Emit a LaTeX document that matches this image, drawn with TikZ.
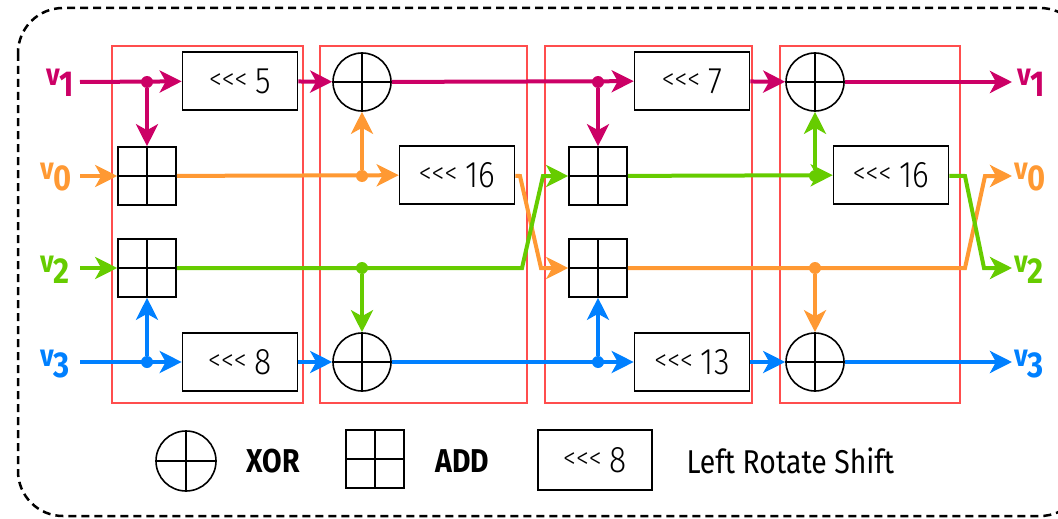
\documentclass[tikz,border=0pt]{standalone}
\usepackage{fontspec}
\setmainfont[FakeStretch=0.86]{Fira Sans}
\newfontfamily\lightfont[FakeStretch=0.86]{Fira Sans Light}
\usetikzlibrary{arrows.meta}

\definecolor{vone}{HTML}{CC0066}
\definecolor{vzero}{HTML}{FF9933}
\definecolor{vtwo}{HTML}{66CC00}
\definecolor{vthree}{HTML}{0080FF}
\definecolor{stage}{HTML}{FF4D4D}

% v with its hanging index
\newcommand\Vname[1]{{\fontsize{31}{31}\selectfont\bfseries v}{\fontsize{36}{36}\selectfont\bfseries\raisebox{-11pt}{#1}}}
% rotation amount; the marks are kept apart so they do not turn into guillemets
\newcommand\Rotl[1]{\raisebox{4pt}{\fontsize{30}{30}\selectfont<\kern0pt<\kern0pt<}\hspace{8pt}{\fontsize{37}{37}\selectfont#1}}

\tikzstyle{rot}=[rectangle,draw,line width=1.6pt,minimum width=115pt,minimum height=58pt,inner sep=0pt,font=\lightfont]
\tikzstyle{xor}=[circle,draw,line width=1.6pt,minimum size=58pt,inner sep=0pt,
  path picture={\draw[line width=1.3pt] (path picture bounding box.north) -- (path picture bounding box.south)
    (path picture bounding box.west) -- (path picture bounding box.east);}]
\tikzstyle{add}=[rectangle,draw,line width=1.6pt,minimum size=58pt,inner sep=0pt,
  path picture={\draw[line width=1.3pt] (path picture bounding box.north) -- (path picture bounding box.south)
    (path picture bounding box.west) -- (path picture bounding box.east);}]
\tikzstyle{dot}=[circle,fill,inner sep=0pt,minimum size=12pt]
\tikzstyle{stagebox}=[draw=stage,line width=1.6pt]
\tikzstyle{wire}=[line width=4pt,-{Stealth[length=22pt,width=22pt,inset=6pt]}]
\tikzstyle{vlabel}=[inner sep=0pt,anchor=base west]
\tikzstyle{legend}=[font=\fontsize{33}{33}\selectfont]

\begin{document}
\begin{tikzpicture}[x=1pt,y=-1pt]
  \useasboundingbox (0,0) rectangle (1058,519);
  \draw[line width=2.5pt,dash pattern=on 8pt off 5pt,rounded corners=45pt] (18,8) rectangle (1085,516);
  % the four stages
  \draw[stagebox] (112,46) rectangle (303,403);
  \draw[stagebox] (320,46) rectangle (527,403);
  \draw[stagebox] (545,46) rectangle (752,403);
  \draw[stagebox] (780,46) rectangle (960,403);
  % first half
  \node[dot,vone] (d1) at (147,82) {};
  \node[rot] (rot5) at (240,81) {\Rotl{5}};
  \node[add] (add1) at (147,176) {};
  \node[add] (add2) at (147,268) {};
  \node[dot,vthree] (d4) at (147,362) {};
  \node[rot] (rot8) at (240,362) {\Rotl{8}};
  \node[xor] (xor1) at (362,82) {};
  \node[dot,vzero] (d2) at (362,176) {};
  \node[rot] (rot16a) at (457,175) {\Rotl{16}};
  \node[dot,vtwo] (d3) at (362,268) {};
  \node[xor] (xor2) at (362,362) {};
  % second half
  \node[dot,vone] (d5) at (598,82) {};
  \node[rot] (rot7) at (692,81) {\Rotl{7}};
  \node[add] (add3) at (598,176) {};
  \node[add] (add4) at (598,268) {};
  \node[dot,vthree] (d8) at (598,362) {};
  \node[rot] (rot13) at (692,362) {\Rotl{13}};
  \node[xor] (xor3) at (815,82) {};
  \node[dot,vtwo] (d6) at (815,176) {};
  \node[rot] (rot16b) at (891,175) {\Rotl{16}};
  \node[dot,vzero] (d7) at (815,268) {};
  \node[xor] (xor4) at (815,362) {};
  % inputs and outputs
  \node[vlabel,text=vone] (v1in) at (46,85) {\Vname{1}};
  \node[vlabel,text=vzero] (v0in) at (40,179) {\Vname{0}};
  \node[vlabel,text=vtwo] (v2in) at (40,272) {\Vname{2}};
  \node[vlabel,text=vthree] (v3in) at (40,366) {\Vname{3}};
  \node[vlabel,text=vone] (v1out) at (1017,85) {\Vname{1}};
  \node[vlabel,text=vzero] (v0out) at (1014,179) {\Vname{0}};
  \node[vlabel,text=vtwo] (v2out) at (1014,272) {\Vname{2}};
  \node[vlabel,text=vthree] (v3out) at (1014,366) {\Vname{3}};
  \coordinate (in1) at (80,82);
  \coordinate (in0) at (80,176);
  \coordinate (in2) at (80,268);
  \coordinate (in3) at (80,362);
  \coordinate (out1) at (1012,82);
  \coordinate (out0) at (1012,176);
  \coordinate (out2) at (1012,268);
  \coordinate (out3) at (1012,362);
  \coordinate (ca1) at (520,176);
  \coordinate (ca2) at (541,268);
  \coordinate (cb1) at (522,268);
  \coordinate (cb2) at (543,176);
  \coordinate (cc1) at (965,268);
  \coordinate (cc2) at (985,176);
  \coordinate (cd1) at (965,176);
  \coordinate (cd2) at (984,268);
  % v1
  \draw[wire,vone] (in1) -- (rot5);
  \draw[wire,vone] (d1) -- (add1);
  \draw[wire,vone] (rot5) -- (xor1);
  \draw[wire,vone] (xor1) -- (rot7);
  \draw[wire,vone] (d5) -- (add3);
  \draw[wire,vone] (rot7) -- (xor3);
  \draw[wire,vone] (xor3) -- (out1);
  % v0
  \draw[wire,vzero] (in0) -- (add1);
  \draw[wire,vzero] (add1) -- (rot16a);
  \draw[wire,vzero] (d2) -- (xor1);
  \draw[wire,vzero] (rot16a) -- (ca1) -- (ca2) -- (add4);
  \draw[wire,vzero] (add4) -- (cc1) -- (cc2) -- (out0);
  \draw[wire,vzero] (d7) -- (xor4);
  % v2
  \draw[wire,vtwo] (in2) -- (add2);
  \draw[wire,vtwo] (add2) -- (cb1) -- (cb2) -- (add3);
  \draw[wire,vtwo] (d3) -- (xor2);
  \draw[wire,vtwo] (add3) -- (rot16b);
  \draw[wire,vtwo] (d6) -- (xor3);
  \draw[wire,vtwo] (rot16b) -- (cd1) -- (cd2) -- (out2);
  % v3
  \draw[wire,vthree] (in3) -- (rot8);
  \draw[wire,vthree] (d4) -- (add2);
  \draw[wire,vthree] (rot8) -- (xor2);
  \draw[wire,vthree] (xor2) -- (rot13);
  \draw[wire,vthree] (d8) -- (add4);
  \draw[wire,vthree] (rot13) -- (xor4);
  \draw[wire,vthree] (xor4) -- (out3);
  % legend
  \node[xor,minimum size=60pt] (lxor) at (186,461) {};
  \node[legend,anchor=west,font=\fontsize{33}{33}\selectfont\bfseries] (txor) at (243,461) {XOR};
  \node[add] (ladd) at (375,459) {};
  \node[legend,anchor=west,font=\fontsize{33}{33}\selectfont\bfseries] (tadd) at (432,461) {ADD};
  \node[rot,minimum width=114pt,minimum height=60pt] (lrot) at (595,460) {\Rotl{8}};
  \node[legend,anchor=west] (trot) at (683,461) {Left Rotate Shift};
\end{tikzpicture}
\end{document}
